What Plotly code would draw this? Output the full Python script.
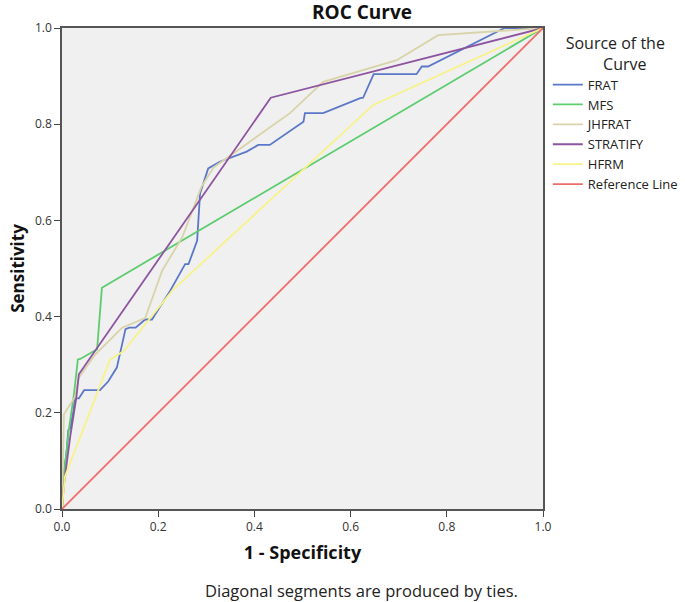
import plotly.graph_objects as go

# FRAT
frat_x = [0, 0.003, 0.01, 0.013, 0.017, 0.023, 0.027, 0.035, 0.046, 0.079, 0.096, 0.114, 0.132, 0.140, 0.153,
          0.173, 0.187, 0.208, 0.225, 0.256, 0.263, 0.281, 0.287, 0.304, 0.328, 0.384, 0.408, 0.432, 0.502, 0.505,
          0.543, 0.62, 0.626, 0.648, 0.737, 0.748, 0.761, 0.92, 1.0]
frat_y = [0, 0.067, 0.123, 0.164, 0.168, 0.199, 0.23, 0.23, 0.247, 0.247, 0.265, 0.294, 0.374, 0.377, 0.377,
          0.394, 0.394, 0.426, 0.454, 0.509, 0.509, 0.558, 0.656, 0.708, 0.722, 0.743, 0.757, 0.757, 0.805, 0.823,
          0.823, 0.854, 0.855, 0.904, 0.904, 0.92, 0.92, 1.0, 1.0]
# MFS
mfs_x = [0, 0.005, 0.015, 0.025, 0.033, 0.038, 0.073, 0.083, 1.0]
mfs_y = [0, 0.08, 0.17, 0.24, 0.311, 0.312, 0.332, 0.46, 1.0]
# JHFRAT
jh_x = [0, 0.004, 0.027, 0.035, 0.069, 0.125, 0.173, 0.208, 0.25, 0.29, 0.315, 0.474, 0.543, 0.696, 0.782, 1.0]
jh_y = [0, 0.197, 0.233, 0.273, 0.321, 0.377, 0.397, 0.495, 0.565, 0.67, 0.71, 0.823, 0.888, 0.933, 0.985, 1.0]
# STRATIFY
st_x = [0, 0.004, 0.017, 0.03, 0.035, 0.434, 1.0]
st_y = [0, 0.05, 0.15, 0.233, 0.28, 0.855, 1.0]
# HFRM
hf_x = [0, 0.006, 0.1, 0.128, 0.23, 0.647, 1.0]
hf_y = [0, 0.067, 0.311, 0.328, 0.455, 0.84, 1.0]
# Reference
ref_x = [0, 1]
ref_y = [0, 1]

names = ["FRAT", "MFS", "JHFRAT", "STRATIFY", "HFRM", "Reference Line"]
colors = ["#5b78c8", "#5ccc6e", "#d8d3a8", "#8d54a0", "#f8f28a", "#f06a6a"]
series = [(frat_x, frat_y), (mfs_x, mfs_y), (jh_x, jh_y), (st_x, st_y), (hf_x, hf_y), (ref_x, ref_y)]

fig = go.Figure()
for (xs, ys), n, c in zip(series, names, colors):
    fig.add_trace(go.Scatter(x=xs, y=ys, mode="lines", name=n,
                             line=dict(color=c, width=1.8)))

FONT = "Open Sans, DejaVu Sans, sans-serif"
tickvals = [0, 0.2, 0.4, 0.6, 0.8, 1.0]
ticktext = ["0.0", "0.2", "0.4", "0.6", "0.8", "1.0"]

fig.update_layout(
    width=685, height=602,
    margin=dict(l=62, r=142, t=28, b=93, autoexpand=False),
    paper_bgcolor="white", plot_bgcolor="#f0f0f0",
    font=dict(family=FONT, color="#222", size=11),
    title=dict(text="<b>ROC Curve</b>", x=362 / 685, xanchor="center", y=1 - 12 / 602, yanchor="middle",
               font=dict(size=19, color="#111")),
    xaxis=dict(range=[0, 1], tickvals=tickvals, ticktext=ticktext, showgrid=False, zeroline=False,
               ticks="outside", ticklen=6, tickcolor="#444", showline=True, linecolor="#555", linewidth=1.5,
               mirror=True, tickfont=dict(size=12, color="#333"), automargin=False,
               title=dict(text="<b>1 - Specificity</b>", font=dict(size=18, color="#111"), standoff=12)),
    yaxis=dict(range=[0, 1], tickvals=tickvals, ticktext=ticktext, showgrid=False, zeroline=False,
               ticks="outside", ticklen=6, tickcolor="#444", showline=True, linecolor="#555", linewidth=1.5,
               mirror=True, tickfont=dict(size=12, color="#333"), automargin=False,
               title=dict(text="<b>Sensitivity</b>", font=dict(size=17, color="#111"), standoff=6)),
    legend=dict(x=1.01, xanchor="left", y=1.0, yanchor="top", bgcolor="rgba(0,0,0,0)",
                font=dict(size=13, color="#222"), tracegroupgap=0,
                title=dict(text="Source of the<br>         Curve", font=dict(size=16, color="#222"),
                           side="top center"),
                itemwidth=30),
    showlegend=True,
)
fig.add_annotation(text="Diagonal segments are produced by ties.", xref="paper", yref="paper",
                   x=(361 - 62) / 481, y=-(590 - 509) / 481, xanchor="center", yanchor="middle",
                   showarrow=False, font=dict(size=16.5, color="#222"))

fig.write_html("out.html", config={"displayModeBar": False},
               post_script="document.body.style.margin='0px';document.body.style.overflow='hidden';")
